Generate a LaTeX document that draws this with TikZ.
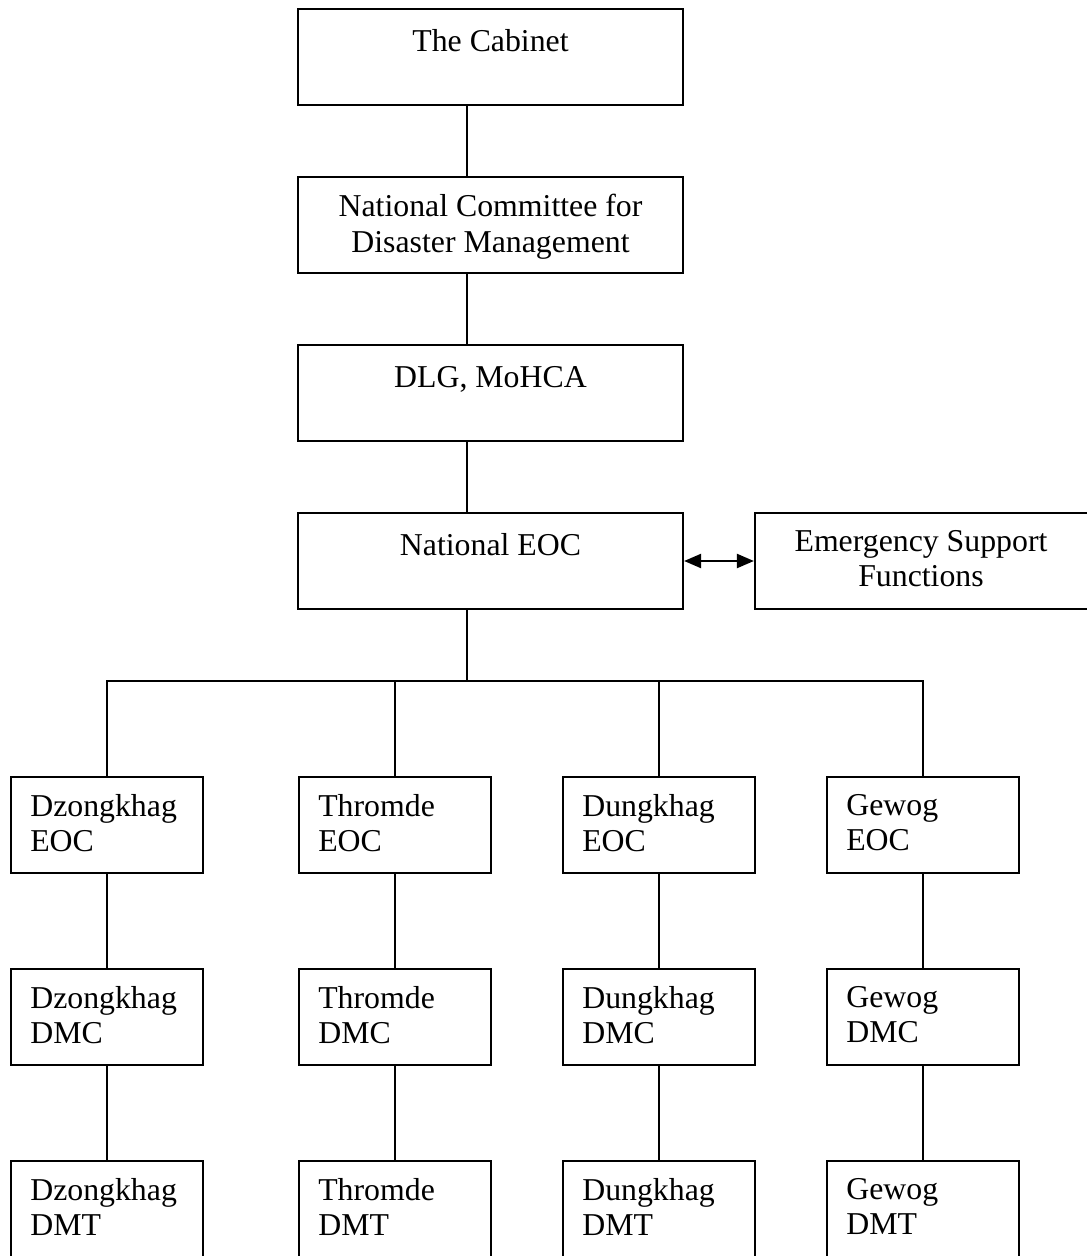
\documentclass[tikz,border=0pt]{standalone}
\usepackage{fontspec}
\setmainfont{Liberation Serif}
\usepackage{tikz}
\usetikzlibrary{arrows.meta}

\tikzset{
  orgbox/.style={draw, line width=1.1pt, inner sep=0pt, minimum height=48pt},
  wide/.style={orgbox, minimum width=192.5pt},
  narrow/.style={orgbox, minimum width=96pt},
  toptxt/.style={anchor=north, yshift=-9.1pt, inner sep=0pt, align=center,
    font=\fontsize{15.9}{17.6}\selectfont, execute at begin node=\strut},
  sidetxt/.style={toptxt, anchor=north west, xshift=10pt, align=left},
  link/.style={line width=1.1pt},
}

\begin{document}
\begin{tikzpicture}[x=0.5pt, y=-0.5pt, >={Triangle[length=8.5pt, width=7pt]}]
    \useasboundingbox (0,0) rectangle (1086,1256);

    % National level
    \node[wide, label={[toptxt]north:The Cabinet}] (cab) at (490.5,57) {};
    \node[wide, label={[toptxt]north:{National Committee for\\Disaster Management}}] (ncdm) at (490.5,225) {};
    \node[wide, label={[toptxt]north:{DLG, MoHCA}}] (dlg) at (490.5,393) {};
    \node[wide, label={[toptxt]north:National EOC}] (neoc) at (490.5,561) {};
    \node[orgbox, minimum width=167pt, label={[toptxt, xshift=-0.5pt]north:{Emergency Support\\Functions}}] (esf) at (922,561) {};

    % Spine and bus
    \coordinate (spine) at (467,0);
    \coordinate (bus) at (467,681);

    % Local EOCs
    \node[narrow, label={[sidetxt]north west:{Dzongkhag\\EOC}}] (dzeoc) at (107,825) {};
    \node[narrow, label={[sidetxt]north west:{Thromde\\EOC}}] (treoc) at (395,825) {};
    \node[narrow, label={[sidetxt]north west:{Dungkhag\\EOC}}] (dkeoc) at (659,825) {};
    \node[narrow, label={[sidetxt]north west:{Gewog\\EOC}}] (gweoc) at (923,825) {};

    % Disaster management committees
    \node[narrow, label={[sidetxt]north west:{Dzongkhag\\DMC}}] (dzdmc) at (107,1017) {};
    \node[narrow, label={[sidetxt]north west:{Thromde\\DMC}}] (trdmc) at (395,1017) {};
    \node[narrow, label={[sidetxt]north west:{Dungkhag\\DMC}}] (dkdmc) at (659,1017) {};
    \node[narrow, label={[sidetxt]north west:{Gewog\\DMC}}] (gwdmc) at (923,1017) {};

    % Disaster management teams
    \node[narrow, label={[sidetxt]north west:{Dzongkhag\\DMT}}] (dzdmt) at (107,1209) {};
    \node[narrow, label={[sidetxt]north west:{Thromde\\DMT}}] (trdmt) at (395,1209) {};
    \node[narrow, label={[sidetxt]north west:{Dungkhag\\DMT}}] (dkdmt) at (659,1209) {};
    \node[narrow, label={[sidetxt]north west:{Gewog\\DMT}}] (gwdmt) at (923,1209) {};

    % Links
    \draw[link] (cab.south -| spine) -- (ncdm.north -| spine);
    \draw[link] (ncdm.south -| spine) -- (dlg.north -| spine);
    \draw[link] (dlg.south -| spine) -- (neoc.north -| spine);
    \draw[link] (neoc.south -| spine) -- (bus);
    \draw[link, <->] (neoc.east) -- (esf.west);
    \draw[link] (dzeoc.north) |- (gweoc.north |- bus) -- (gweoc.north);
    \draw[link] (treoc.north) -- (treoc.north |- bus);
    \draw[link] (dkeoc.north) -- (dkeoc.north |- bus);

    \draw[link] (dzeoc) -- (dzdmc) -- (dzdmt);
    \draw[link] (treoc) -- (trdmc) -- (trdmt);
    \draw[link] (dkeoc) -- (dkdmc) -- (dkdmt);
    \draw[link] (gweoc) -- (gwdmc) -- (gwdmt);
\end{tikzpicture}
\end{document}
